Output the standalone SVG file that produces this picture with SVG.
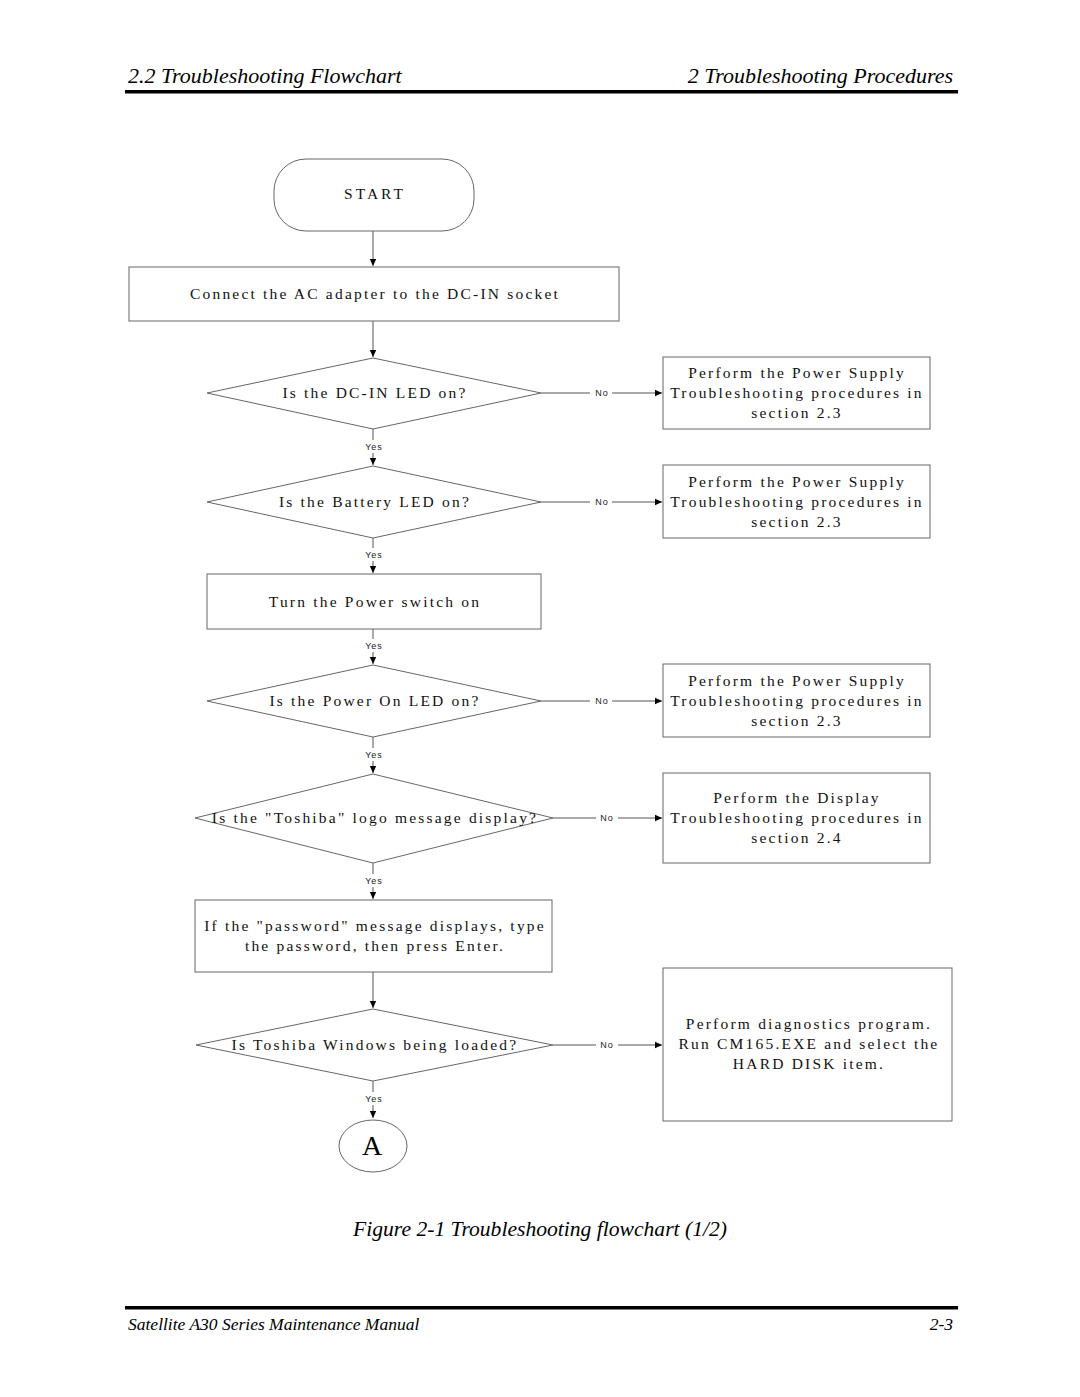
<svg xmlns="http://www.w3.org/2000/svg" width="1080" height="1397" viewBox="0 0 1080 1397">
<style>
.hdr{font-family:"Liberation Serif",serif;font-style:italic;font-size:22px;fill:#000}
.t{font-family:"Liberation Serif",serif;font-size:15.5px;letter-spacing:2.2px;fill:#111;text-anchor:middle}
.lbl{font-family:"Liberation Sans",sans-serif;font-size:9px;letter-spacing:1px;fill:#222;text-anchor:middle}
.shape{fill:#fff;stroke:#666;stroke-width:1}
.ln{stroke:#555;stroke-width:1;fill:none}
</style>
<defs>
<marker id="ah" markerWidth="8" markerHeight="8" refX="7" refY="4" orient="auto" markerUnits="userSpaceOnUse">
<path d="M0,0.8 L7,4 L0,7.2 Z" fill="#000"/>
</marker>
</defs>
<rect width="1080" height="1397" fill="#fff"/>
<g id="header">
<text class="hdr" x="128" y="83">2.2  Troubleshooting Flowchart</text>
<text class="hdr" x="953" y="83" text-anchor="end">2  Troubleshooting Procedures</text>
<rect x="125" y="90" width="833" height="3.5" fill="#000"/>
</g>
<g id="connectors">
<line class="ln" x1="373" y1="231" x2="373" y2="266" marker-end="url(#ah)"/>
<line class="ln" x1="373" y1="321" x2="373" y2="357" marker-end="url(#ah)"/>
<line class="ln" x1="541" y1="393" x2="590" y2="393"/><line class="ln" x1="612" y1="393" x2="662" y2="393" marker-end="url(#ah)"/>
<text class="lbl" x="602" y="396">No</text>
<line class="ln" x1="373" y1="429" x2="373" y2="440"/><line class="ln" x1="373" y1="453" x2="373" y2="465" marker-end="url(#ah)"/>
<text class="lbl" x="374" y="450">Yes</text>
<line class="ln" x1="541" y1="502" x2="590" y2="502"/><line class="ln" x1="612" y1="502" x2="662" y2="502" marker-end="url(#ah)"/>
<text class="lbl" x="602" y="505">No</text>
<line class="ln" x1="373" y1="538" x2="373" y2="548"/><line class="ln" x1="373" y1="561" x2="373" y2="573" marker-end="url(#ah)"/>
<text class="lbl" x="374" y="558">Yes</text>
<line class="ln" x1="373" y1="629" x2="373" y2="639"/><line class="ln" x1="373" y1="652" x2="373" y2="664" marker-end="url(#ah)"/>
<text class="lbl" x="374" y="649">Yes</text>
<line class="ln" x1="541" y1="701" x2="590" y2="701"/><line class="ln" x1="612" y1="701" x2="662" y2="701" marker-end="url(#ah)"/>
<text class="lbl" x="602" y="704">No</text>
<line class="ln" x1="373" y1="737" x2="373" y2="748"/><line class="ln" x1="373" y1="761" x2="373" y2="773" marker-end="url(#ah)"/>
<text class="lbl" x="374" y="758">Yes</text>
<line class="ln" x1="553" y1="818" x2="596" y2="818"/><line class="ln" x1="618" y1="818" x2="662" y2="818" marker-end="url(#ah)"/>
<text class="lbl" x="607" y="821">No</text>
<line class="ln" x1="373" y1="863" x2="373" y2="874"/><line class="ln" x1="373" y1="887" x2="373" y2="899" marker-end="url(#ah)"/>
<text class="lbl" x="374" y="884">Yes</text>
<line class="ln" x1="373" y1="972" x2="373" y2="1008" marker-end="url(#ah)"/>
<line class="ln" x1="553" y1="1045" x2="596" y2="1045"/><line class="ln" x1="618" y1="1045" x2="662" y2="1045" marker-end="url(#ah)"/>
<text class="lbl" x="607" y="1048">No</text>
<line class="ln" x1="373" y1="1081" x2="373" y2="1092"/><line class="ln" x1="373" y1="1105" x2="373" y2="1118" marker-end="url(#ah)"/>
<text class="lbl" x="374" y="1102">Yes</text>
</g>
<g id="start">
<rect class="shape" x="274" y="159" width="200" height="72" rx="32" ry="32"/>
<text class="t" x="375" y="199" style="letter-spacing:3px">START</text>
</g>
<g id="connect">
<rect class="shape" x="129" y="267" width="490" height="54"/>
<text class="t" x="375" y="299">Connect the AC adapter to the DC-IN socket</text>
</g>
<g id="dcin">
<polygon class="shape" points="373,358 541,393 373,429 207,393"/>
<text class="t" x="375" y="398">Is the DC-IN LED on?</text>
</g>
<g id="ps1">
<rect class="shape" x="663" y="357" width="267" height="72"/>
<text class="t" x="797" y="378">Perform the Power Supply</text>
<text class="t" x="797" y="398">Troubleshooting procedures in</text>
<text class="t" x="797" y="418">section 2.3</text>
</g>
<g id="battery">
<polygon class="shape" points="373,466 541,502 373,538 207,502"/>
<text class="t" x="375" y="507">Is the Battery LED on?</text>
</g>
<g id="ps2">
<rect class="shape" x="663" y="465" width="267" height="73"/>
<text class="t" x="797" y="487">Perform the Power Supply</text>
<text class="t" x="797" y="507">Troubleshooting procedures in</text>
<text class="t" x="797" y="527">section 2.3</text>
</g>
<g id="power">
<rect class="shape" x="207" y="574" width="334" height="55"/>
<text class="t" x="375" y="607">Turn the Power switch on</text>
</g>
<g id="poweron">
<polygon class="shape" points="373,665 541,701 373,737 207,701"/>
<text class="t" x="375" y="706">Is the Power On LED on?</text>
</g>
<g id="ps3">
<rect class="shape" x="663" y="664" width="267" height="73"/>
<text class="t" x="797" y="686">Perform the Power Supply</text>
<text class="t" x="797" y="706">Troubleshooting procedures in</text>
<text class="t" x="797" y="726">section 2.3</text>
</g>
<g id="logo">
<polygon class="shape" points="373,774 553,818 373,863 195,818"/>
<text class="t" x="375" y="823">Is the "Toshiba" logo message display?</text>
</g>
<g id="display">
<rect class="shape" x="663" y="773" width="267" height="90"/>
<text class="t" x="797" y="803">Perform the Display</text>
<text class="t" x="797" y="823">Troubleshooting procedures in</text>
<text class="t" x="797" y="843">section 2.4</text>
</g>
<g id="password">
<rect class="shape" x="195" y="900" width="357" height="72"/>
<text class="t" x="375" y="931">If the "password" message displays, type</text>
<text class="t" x="375" y="951">the password, then press Enter.</text>
</g>
<g id="windows">
<polygon class="shape" points="373,1009 553,1045 373,1081 196,1045"/>
<text class="t" x="375" y="1050">Is Toshiba Windows being loaded?</text>
</g>
<g id="diag">
<rect class="shape" x="663" y="968" width="289" height="153"/>
<text class="t" x="809" y="1029">Perform diagnostics program.</text>
<text class="t" x="809" y="1049">Run CM165.EXE and select the</text>
<text class="t" x="809" y="1069">HARD DISK item.</text>
</g>
<g id="a">
<ellipse class="shape" cx="373" cy="1146" rx="34" ry="26"/>
<text x="372" y="1155" text-anchor="middle" style="font-family:'Liberation Serif',serif;font-size:28px;fill:#000">A</text>
</g>
<g id="caption">
<text class="hdr" x="540" y="1236" text-anchor="middle" style="font-size:21.6px">Figure 2-1  Troubleshooting flowchart (1/2)</text>
</g>
<g id="footer">
<rect x="125" y="1306" width="833" height="3.5" fill="#000"/>
<text class="hdr" x="128" y="1330" style="font-size:17.5px">Satellite A30 Series Maintenance Manual</text>
<text class="hdr" x="953" y="1330" text-anchor="end" style="font-size:17.5px">2-3</text>
</g>
</svg>
